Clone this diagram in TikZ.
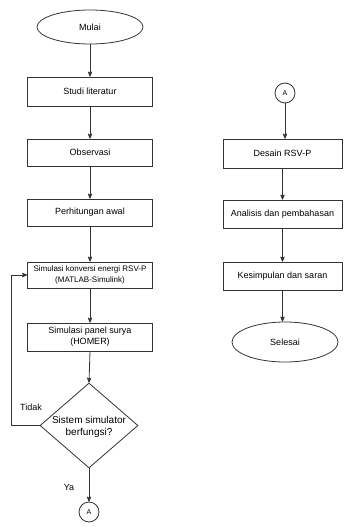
\documentclass[tikz,border=0pt]{standalone}
\usepackage{fontspec}
\setmainfont{Liberation Sans}
\usetikzlibrary{arrows, shapes.geometric}

\begin{document}
\begin{tikzpicture}[>=stealth', x=1pt, y=1pt, font=\fontsize{9}{11}\selectfont,
  garis/.style={draw=black!80, line width=0.8pt},
  kotak/.style={garis, rectangle, minimum height=28, inner sep=1pt, align=center},
  kiri/.style={kotak, minimum width=125},
  kanan/.style={kotak, minimum width=119},
  ujung/.style={garis, ellipse, minimum width=106, minimum height=36},
  konektor/.style={garis, circle, minimum size=20, inner sep=0pt, font=\fontsize{7}{8}\selectfont},
  cek/.style={garis, diamond, minimum width=98, minimum height=85, inner sep=0pt}]

%\draw[step=10, color=gray!30] (0,0) grid (343,-527);
\useasboundingbox (0,0) rectangle (343,-527);

% kolom kiri
\node[ujung, minimum height=34] (mulai) at (90,-27) {Mulai};
\node[kiri, minimum height=29] (studi) at (90,-91.5) {Studi literatur};
\node[kiri, minimum height=27] (observasi) at (90,-152.5) {Observasi};
\node[kiri, minimum height=27] (awal) at (90,-212.5) {Perhitungan awal};
\node[kiri, minimum height=26, font=\fontsize{8}{11}\selectfont] (konversi) at (90,-275) {Simulasi konversi energi RSV-P\\(MATLAB-Simulink)};
\node[kiri, minimum height=28] (homer) at (90,-337) {Simulasi panel surya\\(HOMER)};
\node[cek] (sistem) at (89,-425.5) {};
\node[align=center, font=\fontsize{10}{12}\selectfont] (sistemtxt) at (89,-427) {Sistem simulator\\berfungsi?};
\node[konektor] (a1) at (89,-512) {A};

\node (tidak) at (31,-407) {Tidak};
\node (ya) at (69,-487) {Ya};

\draw[garis, ->] (mulai)--(studi);
\draw[garis, ->] (studi)--(observasi);
\draw[garis, ->] (observasi)--(awal);
\draw[garis, ->] (awal)--(konversi);
\draw[garis, ->] (konversi)--(homer);
\draw[garis, ->] (homer.south)--(sistem.north);
\draw[garis, ->] (sistem.south)--(a1);
\draw[garis, ->] (sistem.west)--++(-28,0) |- (konversi.west);

% kolom kanan
\node[konektor] (a2) at (285,-93) {A};
\node[kanan, minimum height=29] (desain) at (282.5,-153.5) {Desain RSV-P};
\node[kanan] (analisis) at (282.5,-214) {Analisis dan pembahasan};
\node[kanan] (simpulan) at (282.5,-276) {Kesimpulan dan saran};
\node[ujung, minimum height=40] (selesai) at (285,-342) {Selesai};

\draw[garis, ->] (a2)--(a2|-desain.north);
\draw[garis, ->] (desain)--(analisis);
\draw[garis, ->] (analisis)--(simpulan);
\draw[garis, ->] (simpulan.south)--(simpulan.south|-selesai.north);

\end{tikzpicture}
\end{document}
